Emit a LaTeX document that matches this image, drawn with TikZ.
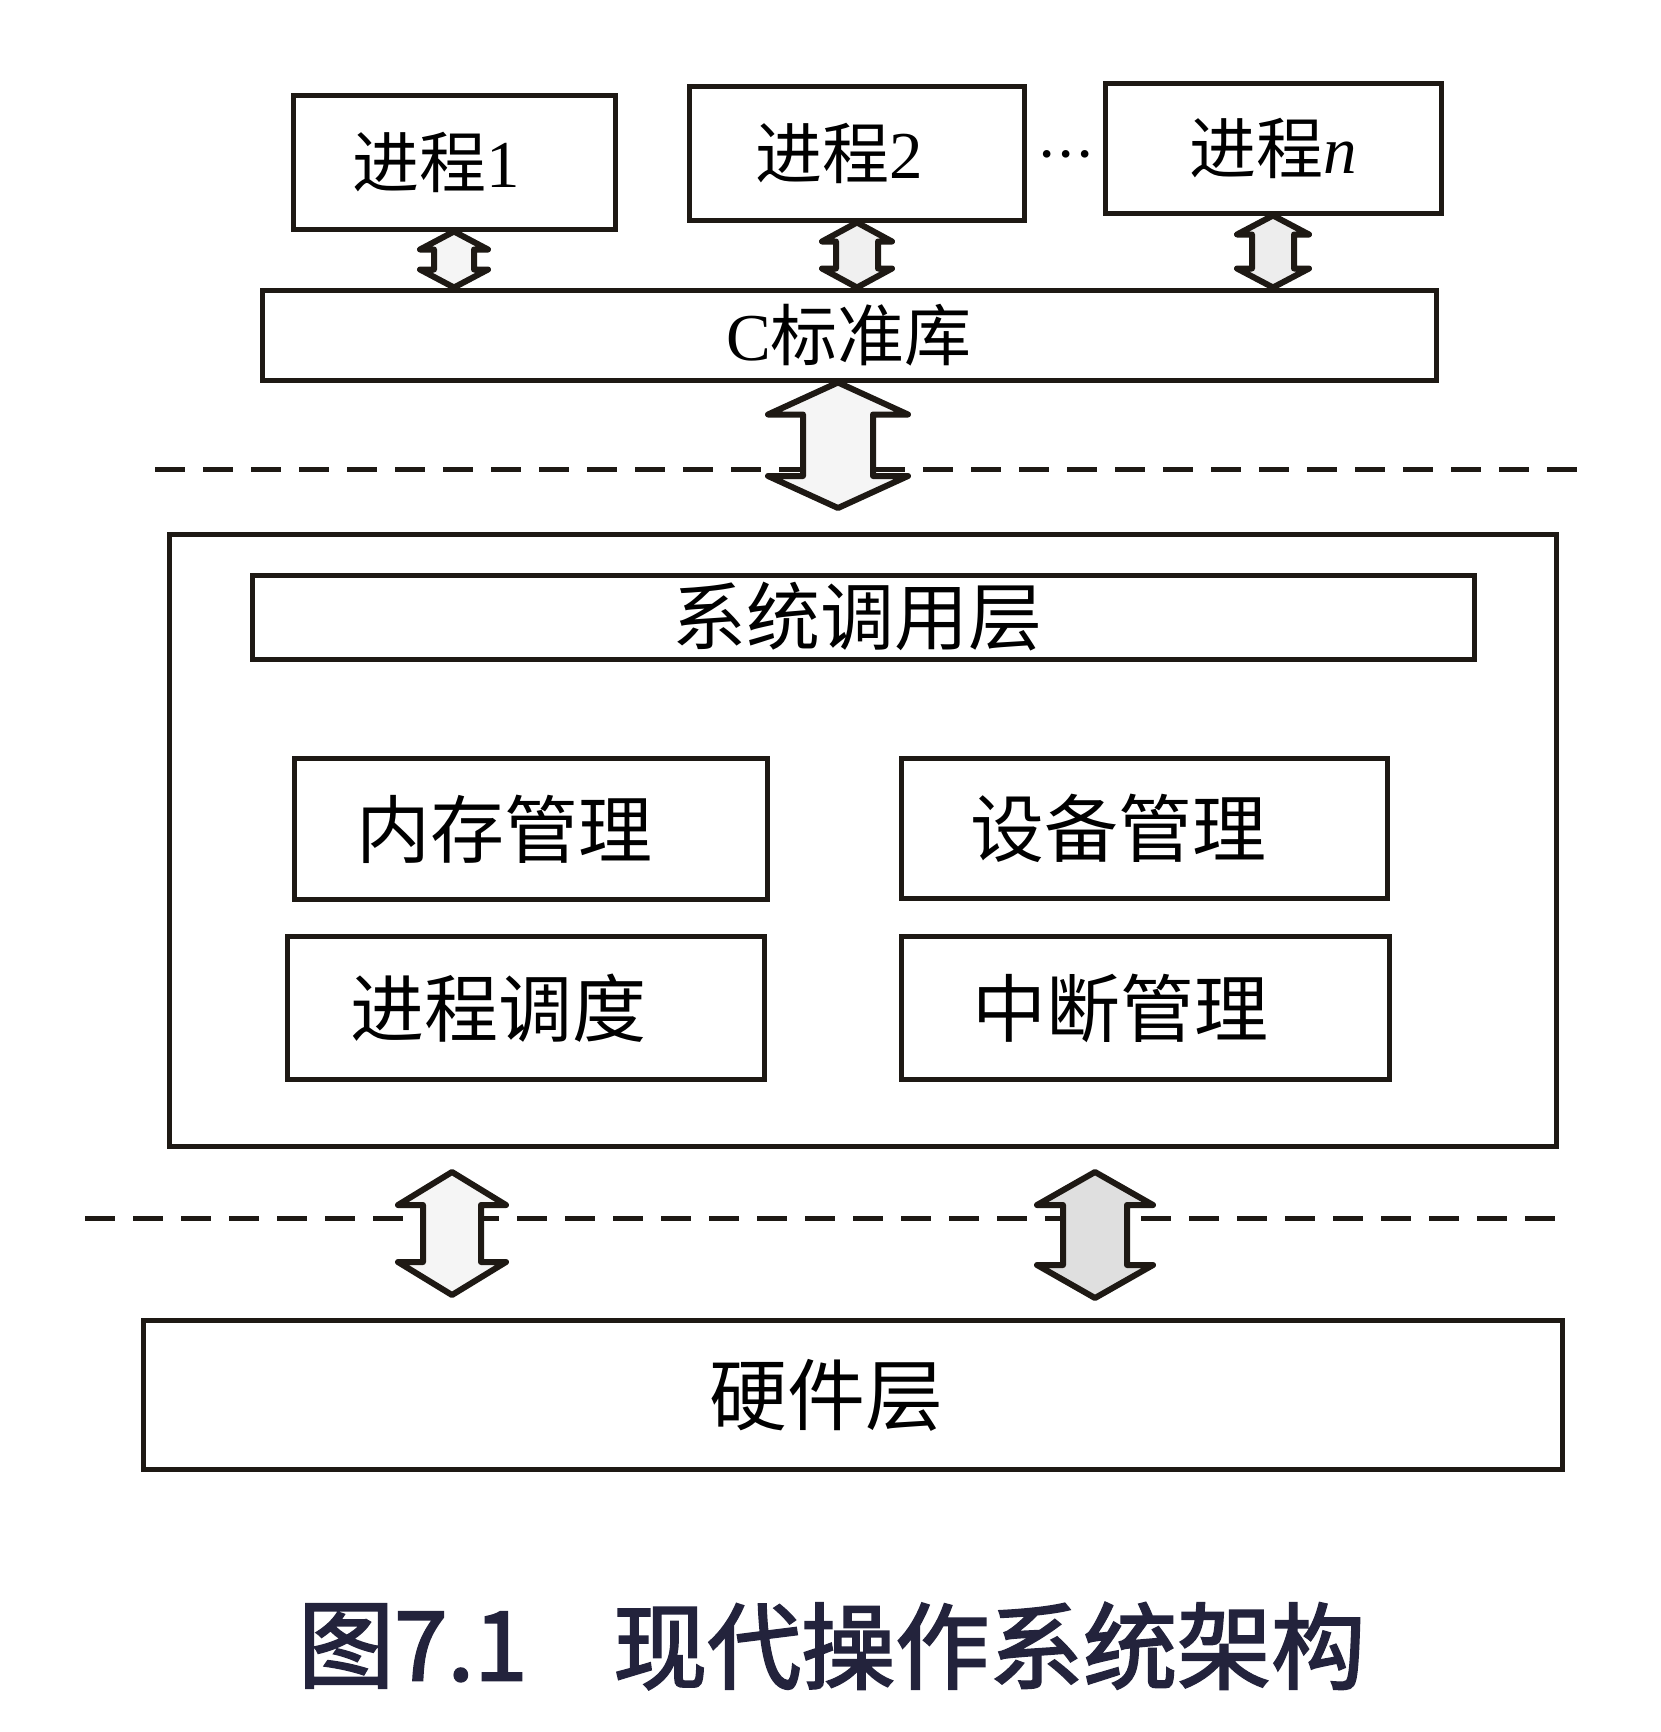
\documentclass[tikz,border=0pt]{standalone}
\usepackage{fontspec}
\setmainfont{Liberation Serif}
\newfontfamily\cjk{Noto Sans CJK SC}
\newfontfamily\capfont{Noto Sans CJK SC}[FakeBold=2.2]
\usetikzlibrary{calc}
\definecolor{ink}{RGB}{30,25,20}
\definecolor{capink}{RGB}{35,35,60}
\tikzset{
  box/.style={draw=ink, line width=5pt, rectangle, inner sep=0pt},
  dashline/.style={draw=ink, line width=5pt, dash pattern=on 30pt off 18pt},
  blk/.style={draw=ink, line width=6pt, line join=round},
  ptext/.style={font=\fontsize{67}{70}\selectfont},
  ktext/.style={font=\fontsize{74}{78}\selectfont\cjk},
}
% top, bottom, shaft half, head half, head length, fill
\newcommand\blockarrow[6]{%
  \path[blk, fill=#6] let \p1=#1, \p2=#2 in
    (\x1,\y1) -- (\x1+#4pt,\y1-#5pt) -- (\x1+#3pt,\y1-#5pt)
    -- (\x1+#3pt,\y2+#5pt) -- (\x1+#4pt,\y2+#5pt) -- (\x1,\y2)
    -- (\x1-#4pt,\y2+#5pt) -- (\x1-#3pt,\y2+#5pt)
    -- (\x1-#3pt,\y1-#5pt) -- (\x1-#4pt,\y1-#5pt) -- cycle;}
\begin{document}
\begin{tikzpicture}[x=1pt, y=-1pt]
\path[fill=white] (0,0) rectangle (1660,1732);
\useasboundingbox (0,0) rectangle (1660,1732);

% processes
\node[box, ptext, minimum width=322pt, minimum height=134pt] (p1) at (454,162) {{\cjk 进程}1\hspace*{36pt}};
\node[box, ptext, minimum width=335pt, minimum height=134pt] (p2) at (857,153) {{\cjk 进程}2\hspace*{36pt}};
\node[box, ptext, minimum width=336pt, minimum height=130pt] (pn) at (1273,148) {{\cjk 进程}\textit{n}};
\node[font=\fontsize{64}{64}\selectfont, inner sep=0pt] (dots) at (1066,163) {·\kern-2pt·\kern-2pt·};

% C library
\node[box, ptext, minimum width=1174pt, minimum height=90pt] (clib) at (849,335) {C{\cjk 标准库}};

% small arrows
\blockarrow{(p1.south)}{(p1.south |- clib.north)}{20}{34}{18}{gray!8}
\blockarrow{(p2.south)}{(p2.south |- clib.north)}{21}{35}{19}{gray!12}
\blockarrow{(pn.south)}{(pn.south |- clib.north)}{21}{36}{19}{gray!14}

% dashed line 1
\coordinate (d1a) at (155,469);
\coordinate (d1b) at (1585,469);
\draw[dashline] (d1a) -- (d1b);

% big arrow
\coordinate (bigbot) at (838,508);
\blockarrow{(bigbot |- clib.south)}{(bigbot)}{35}{70}{32}{gray!8}

% kernel
\node[box, minimum width=1387pt, minimum height=612pt] (kernel) at (863,840) {};
\node[box, ktext, minimum width=1222pt, minimum height=84pt] (sys) at (863,617) {系统调用层\hspace*{12pt}};
\node[box, ktext, minimum width=473pt, minimum height=141pt] (mem) at (531,829) {内存管理\hspace*{54pt}};
\node[box, ktext, minimum width=486pt, minimum height=140pt] (dev) at (1144,828) {设备管理\hspace*{52pt}};
\node[box, ktext, minimum width=477pt, minimum height=143pt] (sched) at (526,1008) {进程调度\hspace*{56pt}};
\node[box, ktext, minimum width=488pt, minimum height=143pt] (irq) at (1145,1008) {中断管理\hspace*{50pt}};

% dashed line 2
\coordinate (d2a) at (85,1218);
\coordinate (d2b) at (1557,1218);
\draw[dashline] (d2a) -- (d2b);

% hardware
\node[box, minimum width=1419pt, minimum height=149pt, font=\fontsize{78}{80}\selectfont\cjk] (hw) at (853,1395) {硬件层\hspace*{54pt}};

% bottom arrows
\coordinate (la) at (452,1172);
\coordinate (lb) at (452,1295);
\coordinate (ra) at (1095,1172);
\coordinate (rb) at (1095,1298);
\blockarrow{(la)}{(lb)}{29}{54}{33}{gray!8}
\blockarrow{(ra)}{(rb)}{32}{58}{33}{gray!25}

% caption
\node[anchor=west, text=capink, font=\fontsize{96}{100}\selectfont\capfont, inner sep=0pt] (cap1) at (298,1646) {图7.1};
\node[anchor=west, text=capink, font=\fontsize{94}{100}\selectfont\capfont, inner sep=0pt] (cap2) at (613,1646) {现代操作系统架构};
\end{tikzpicture}
\end{document}
